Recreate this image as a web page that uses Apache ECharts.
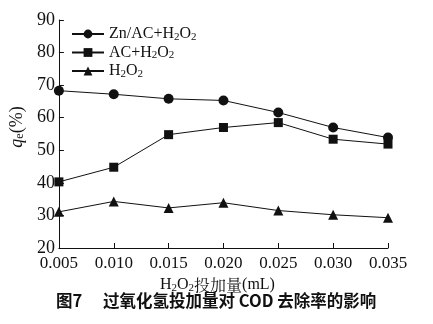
<!DOCTYPE html>
<html>
<head>
<meta charset="utf-8">
<script src="https://cdn.jsdelivr.net/npm/echarts@6/dist/echarts.min.js"></script>
<style>
  html, body { margin: 0; padding: 0; background: #fff; }
  #chart { width: 433px; height: 324px; }
</style>
</head>
<body>
<div id="chart"></div>
<script>
// H2O2 dosage (mL) on the x axis
const dosages = ['0.005', '0.010', '0.015', '0.020', '0.025', '0.030', '0.035'];
// COD removal rate q_e (%)
const znAcH2o2 = [68.3, 67.2, 65.8, 65.3, 61.6, 57.0, 53.9];
const acH2o2   = [40.3, 44.8, 54.8, 57.0, 58.5, 53.4, 51.9];
const h2o2Only = [31.1, 34.3, 32.3, 33.9, 31.5, 30.2, 29.3];
const yTicks = { min: 20, max: 90, step: 10 };

const serif = '"Liberation Serif", "Times New Roman", serif';
const ink = '#111';

// subscript helpers for chemical formulas
const subRich = {
  n: { fontFamily: serif, fontSize: 16, color: ink, lineHeight: 17 },
  s: { fontFamily: serif, fontSize: 11, color: ink, lineHeight: 9, verticalAlign: 'bottom' }
};
const labelOf = {
  'Zn/AC+H2O2': '{n|Zn/AC+H}{s|2}{n|O}{s|2}',
  'AC+H2O2': '{n|AC+H}{s|2}{n|O}{s|2}',
  'H2O2': '{n|H}{s|2}{n|O}{s|2}'
};

function lineSeries(name, data, symbol, size) {
  return {
    name, type: 'line', data, symbol, symbolSize: size,
    lineStyle: { color: ink, width: 1 },
    itemStyle: { color: ink },
    emphasis: { disabled: true },
    animation: false
  };
}

const captionFont = 'bold 16.5px "Noto Sans CJK SC", sans-serif';

const chart = echarts.init(document.getElementById('chart'), null, { renderer: 'canvas' });
chart.setOption({
  backgroundColor: '#fff',
  animation: false,
  grid: { left: 53, right: 45, top: 20, bottom: 76, containLabel: false },
  legend: {
    left: 66, top: 21, orient: 'vertical',
    itemWidth: 32, itemHeight: 11, itemGap: 2,
    formatter: n => labelOf[n],
    textStyle: { rich: subRich },
    data: ['Zn/AC+H2O2', 'AC+H2O2', 'H2O2']
  },
  xAxis: {
    type: 'category', data: dosages, boundaryGap: false,
    axisLine: { lineStyle: { color: ink, width: 1 } },
    axisTick: { inside: true, length: 5, alignWithLabel: true, lineStyle: { color: ink } },
    axisLabel: { color: ink, fontFamily: serif, fontSize: 17, margin: 7 },
    name: '{n|H}{s|2}{n|O}{s|2}{c|投加量}{n|(mL)}',
    nameLocation: 'middle', nameGap: 25,
    nameTextStyle: {
      padding: [0, 12, 0, 0],
      rich: {
        n: { fontFamily: serif, fontSize: 16, color: ink, lineHeight: 17 },
        s: { fontFamily: serif, fontSize: 11, color: ink, lineHeight: 9, verticalAlign: 'bottom' },
        c: { fontFamily: '"Noto Serif CJK SC", "Noto Sans CJK SC", serif', fontSize: 16, color: ink, lineHeight: 17 }
      }
    }
  },
  yAxis: {
    type: 'value', min: yTicks.min, max: yTicks.max, interval: yTicks.step,
    splitLine: { show: false },
    axisLine: { show: true, lineStyle: { color: ink, width: 1 } },
    axisTick: { show: true, inside: true, length: 5, lineStyle: { color: ink } },
    axisLabel: { color: ink, fontFamily: serif, fontSize: 18, margin: 4 },
    name: '{q|q}{e|e}{n|(%)}',
    nameLocation: 'middle', nameGap: 28, nameRotate: 90,
    nameTextStyle: {
      padding: [0, 0, 0, 14],
      rich: {
        q: { fontFamily: serif, fontStyle: 'italic', fontSize: 18, color: ink, lineHeight: 18 },
        e: { fontFamily: serif, fontSize: 12, color: ink, lineHeight: 9, verticalAlign: 'bottom' },
        n: { fontFamily: serif, fontSize: 18, color: ink, lineHeight: 18 }
      }
    }
  },
  graphic: [
    {
      type: 'text', left: 56, top: 292,
      style: { text: '图7', font: captionFont, fill: ink }
    },
    {
      type: 'text', left: 103, top: 292,
      style: { text: '过氧化氢投加量对 COD 去除率的影响', font: captionFont, fill: ink }
    }
  ],
  series: [
    lineSeries('Zn/AC+H2O2', znAcH2o2, 'circle', 10),
    lineSeries('AC+H2O2', acH2o2, 'rect', 9),
    lineSeries('H2O2', h2o2Only, 'triangle', 10)
  ]
});
</script>
</body>
</html>
